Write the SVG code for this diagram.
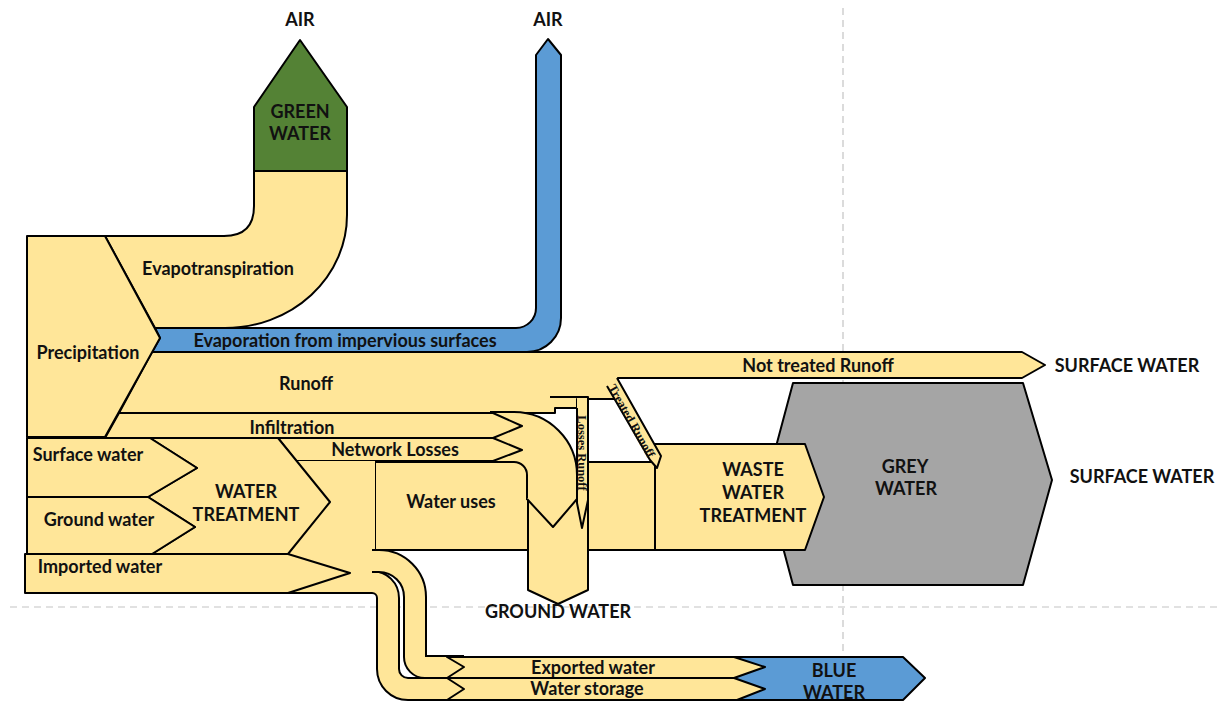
<svg xmlns="http://www.w3.org/2000/svg" width="1217" height="704" viewBox="0 0 1217 704">
<style>
.y{fill:#FFE699;stroke:#000;stroke-width:2;stroke-linejoin:round}
.yf{fill:#FFE699;stroke:none}
.ln{fill:none;stroke:#000;stroke-width:2;stroke-linejoin:round}
.bl{fill:#5B9BD5;stroke:#000;stroke-width:2;stroke-linejoin:round}
.gn{fill:#548235;stroke:#000;stroke-width:2;stroke-linejoin:round}
.gy{fill:#A5A5A5;stroke:#000;stroke-width:2;stroke-linejoin:round}
.pk{fill:none;stroke:#000;stroke-linejoin:round}
.py{fill:none;stroke:#FFE699;stroke-linejoin:round}
.dash{stroke:#C4C4C4;stroke-width:1.2;stroke-dasharray:7 5;fill:none}
text{font-family:Lato,"Liberation Sans",sans-serif;font-weight:700;font-size:18px;fill:#111;text-anchor:middle}
.sm{font-family:"Liberation Serif",serif;font-size:12.5px}
</style>
<g id="guides">
<line class="dash" x1="10" y1="607" x2="1217" y2="607"/>
<line class="dash" x1="843" y1="8" x2="843" y2="655"/>
</g>
<g id="grey-water">
<path class="gy" d="M793,383 H1023 L1052,480 L1023,585 H793 L766,484 Z"/>
</g>
<g id="blue-water">
<path class="bl" d="M734,657 H903 L925,678 L903,700 H734 Z"/>
</g>
<g id="green-water">
<path class="gn" d="M254,171 V107 L300,40 L347,107 V171 Z"/>
</g>
<g id="evapotranspiration">
<path class="y" d="M105,236 H224 Q254,236 254,206 V171 H347 V215 A122,113 0 0 1 225,328 H155 Z"/>
</g>
<g id="evaporation">
<path class="bl" d="M155,328 H516 A20,20 0 0 0 536,308 V55 L548,39 L561,55 V318 A34,34 0 0 1 527,352 H152 L160,338 Z"/>
</g>
<g id="runoff">
<path class="y" d="M152,352 H1022 L1045,365 L1022,378 H618 L614,399 H577 V408 H555 V413 H119 Z"/>
</g>
<g id="water-uses">
<path class="y" d="M375,462 H655 V550 H375 Z"/>
</g>
<g id="ground-water-sink">
<path class="y" d="M528,490 H588 V590 L558,604 L528,590 Z"/>
</g>
<g id="connectors">
<path class="pk" stroke-width="52" d="M490,437 H514 A38,38 0 0 1 552,475 V500"/>
<path class="py" stroke-width="48" d="M490,437 H514 A38,38 0 0 1 552,475 V500"/>
<path class="yf" d="M527,498 H577 L553,527 Z"/>
<path class="ln" d="M527,499 L553,527 L577,499"/>
</g>
<g id="losses-runoff">
<path class="yf" d="M577,398 H588 V500 L582,528 L577,503 Z"/>
<path class="ln" d="M550,397 H588 V500 L582,528 L577,503 V408"/>
</g>
<g id="infiltration">
<path class="y" d="M119,413 H493 L522,426 L493,438 H105 Z"/>
</g>
<g id="network-losses">
<path class="y" d="M278,438 H493 L522,450 L493,461 H296 Z"/>
</g>
<g id="distribution">
<path class="yf" d="M288,461 H375 V550 H374 V593 H288 Z"/>
<path class="ln" d="M288,593 H374"/>
</g>
<g id="water-treatment">
<path class="y" d="M150,438 H278 L330,502 L288,554 H152 L195,527 L148,497 L197,468 Z"/>
</g>
<g id="surface-water-in">
<path class="y" d="M27,438 H150 L197,468 L148,497 H27 Z"/>
</g>
<g id="ground-water-in">
<path class="y" d="M27,497 H148 L195,527 L152,554 H27 Z"/>
</g>
<g id="imported-water">
<path class="y" d="M25,554 H288 L350,573 L288,593 H25 Z"/>
</g>
<g id="export-pipes">
<path class="pk" stroke-width="24" d="M372,582 A16,16 0 0 1 388,598 V669 A20,20 0 0 0 408,689 H464"/>
<path class="py" stroke-width="20" d="M372,582 A16,16 0 0 1 388,598 V669 A20,20 0 0 0 408,689 H464"/>
<path class="pk" stroke-width="24" d="M372,561 H379 A36,36 0 0 1 415,597 V657 A10,10 0 0 0 425,667 H464"/>
<path class="py" stroke-width="20" d="M372,561 H379 A36,36 0 0 1 415,597 V657 A10,10 0 0 0 425,667 H464"/>
</g>
<g id="exported-water">
<path class="y" d="M447,657 H734 L765,667 L734,678 H447 L464,667 Z"/>
</g>
<g id="water-storage">
<path class="y" d="M447,678 H734 L765,689 L737,700 H447 L464,689 Z"/>
</g>
<g id="waste-water-treatment">
<path class="y" d="M655,444 H805 L824,497 L805,550 H655 Z"/>
</g>
<g id="treated-runoff">
<path class="yf" d="M602,378 H617 L661,456 L657,468 L650,460 L607,386 Z"/>
<path class="ln" d="M607,386 L650,460 L657,468 L661,456 L617,378"/>
</g>
<g id="precipitation">
<path class="y" d="M27,236 H105 L160,338 L105,437 H27 Z"/>
</g>
<g id="labels">
<text x="300" y="26">AIR</text>
<text x="548" y="26">AIR</text>
<text x="300" y="118">GREEN</text>
<text x="300" y="140">WATER</text>
<text x="218" y="275">Evapotranspiration</text>
<text x="88" y="359">Precipitation</text>
<text x="345" y="347">Evaporation from impervious surfaces</text>
<text x="306" y="390">Runoff</text>
<text x="818" y="372">Not treated Runoff</text>
<text x="1127" y="372">SURFACE WATER</text>
<text x="292" y="434">Infiltration</text>
<text x="395" y="456">Network Losses</text>
<text x="88" y="461">Surface water</text>
<text x="99" y="526">Ground water</text>
<text x="246" y="498">WATER</text>
<text x="246" y="521">TREATMENT</text>
<text x="100" y="573">Imported water</text>
<text x="451" y="508">Water uses</text>
<text x="558" y="618">GROUND WATER</text>
<text x="753" y="476">WASTE</text>
<text x="753" y="499">WATER</text>
<text x="753" y="522">TREATMENT</text>
<text x="905" y="473">GREY</text>
<text x="906" y="495">WATER</text>
<text x="1142" y="483">SURFACE WATER</text>
<text x="593" y="674">Exported water</text>
<text x="587" y="695">Water storage</text>
<text x="834" y="677">BLUE</text>
<text x="834" y="699">WATER</text>
<text class="sm" transform="translate(578,453) rotate(90)">Losses Runoff</text>
<text class="sm" transform="translate(628,423) rotate(60.6)">Treated Runoff</text>
</g>
</svg>
